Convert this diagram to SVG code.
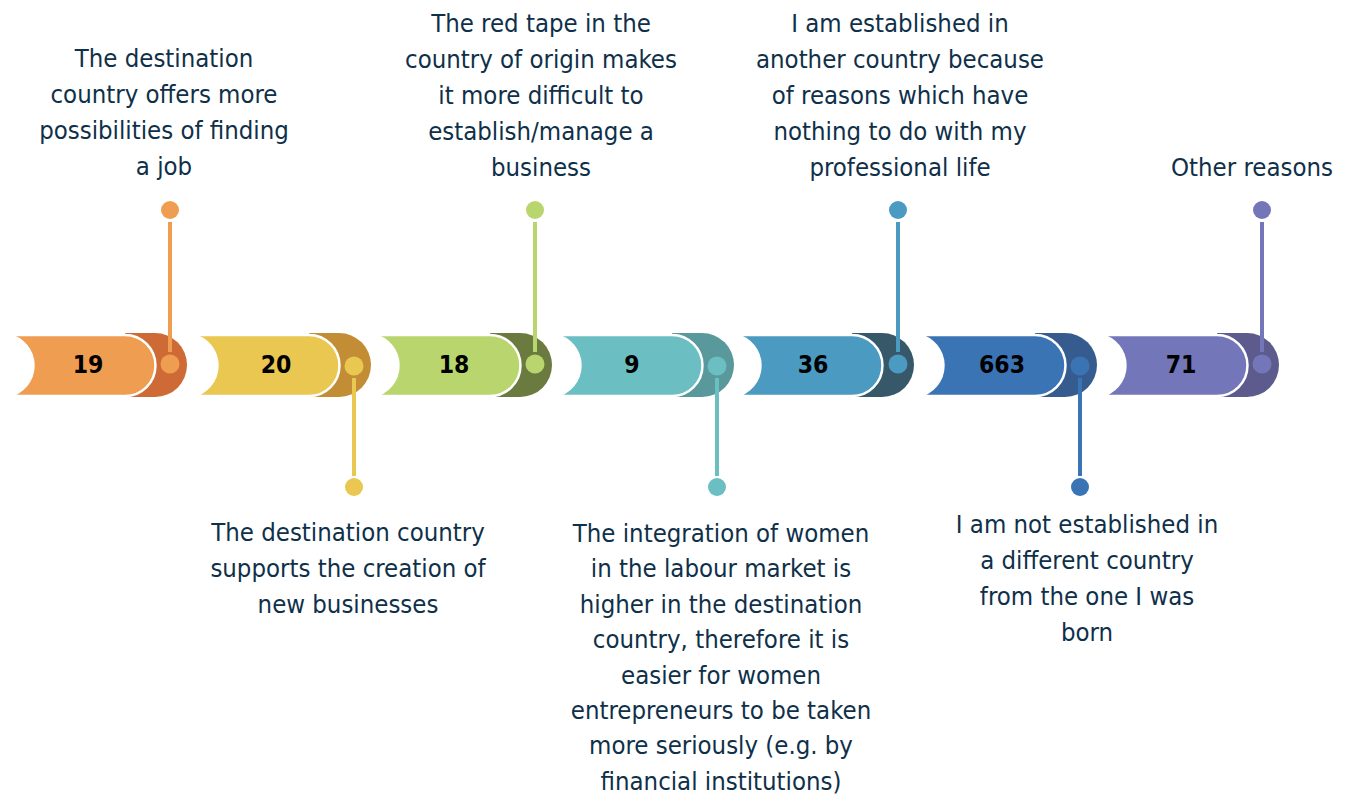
<svg xmlns="http://www.w3.org/2000/svg" width="1352" height="800" viewBox="0 0 1352 800">
<style>
.lbl{font-family:"DejaVu Sans Condensed","DejaVu Sans",sans-serif;font-stretch:condensed;font-size:25.5px;fill:#0F3049;text-anchor:middle}
.num{font-family:"DejaVu Sans Condensed","DejaVu Sans",sans-serif;font-stretch:condensed;font-weight:bold;font-size:24.5px;fill:#000;text-anchor:middle;dominant-baseline:central}
.body{stroke:#fff;stroke-width:2.5}
.ln{stroke-width:4;fill:none}
</style>
<rect width="1352" height="800" fill="#fff"/>
<g id="seg1">
<path d="M125,333 H155 A32,32 0 0 1 155,397 H125 Z" fill="#CE6A35"/>
<path class="body" d="M8,335 H125 A30.5,30.5 0 0 1 125,396 H8 A31,31 0 0 0 8,335 Z" fill="#EF9D50"/>
<circle cx="170" cy="364" r="9.5" fill="#EF9D50"/>
<text class="num" x="88" y="364">19</text>
</g>
<g id="seg2">
<path d="M309,333 H339 A32,32 0 0 1 339,397 H309 Z" fill="#C28D35"/>
<path class="body" d="M192,335 H309 A30.5,30.5 0 0 1 309,396 H192 A31,31 0 0 0 192,335 Z" fill="#E9C750"/>
<circle cx="354" cy="366" r="9.5" fill="#E9C750"/>
<text class="num" x="276" y="364">20</text>
</g>
<g id="seg3">
<path d="M490,333 H520 A32,32 0 0 1 520,397 H490 Z" fill="#6B7B3F"/>
<path class="body" d="M373,335 H490 A30.5,30.5 0 0 1 490,396 H373 A31,31 0 0 0 373,335 Z" fill="#B9D56E"/>
<circle cx="535" cy="364" r="9.5" fill="#B9D56E"/>
<text class="num" x="454" y="364">18</text>
</g>
<g id="seg4">
<path d="M672,333 H702 A32,32 0 0 1 702,397 H672 Z" fill="#5A999B"/>
<path class="body" d="M555,335 H672 A30.5,30.5 0 0 1 672,396 H555 A31,31 0 0 0 555,335 Z" fill="#6BBEC2"/>
<circle cx="717" cy="366" r="9.5" fill="#6BBEC2"/>
<text class="num" x="632" y="364">9</text>
</g>
<g id="seg5">
<path d="M852,333 H882 A32,32 0 0 1 882,397 H852 Z" fill="#365869"/>
<path class="body" d="M735,335 H852 A30.5,30.5 0 0 1 852,396 H735 A31,31 0 0 0 735,335 Z" fill="#4A9AC1"/>
<circle cx="898" cy="364" r="9.5" fill="#4A9AC1"/>
<text class="num" x="813" y="364">36</text>
</g>
<g id="seg6">
<path d="M1035,333 H1065 A32,32 0 0 1 1065,397 H1035 Z" fill="#365C8F"/>
<path class="body" d="M918,335 H1035 A30.5,30.5 0 0 1 1035,396 H918 A31,31 0 0 0 918,335 Z" fill="#3B74B5"/>
<circle cx="1080" cy="366" r="9.5" fill="#3B74B5"/>
<text class="num" x="1002" y="364">663</text>
</g>
<g id="seg7">
<path d="M1217,333 H1247 A32,32 0 0 1 1247,397 H1217 Z" fill="#5D5A8E"/>
<path class="body" d="M1100,335 H1217 A30.5,30.5 0 0 1 1217,396 H1100 A31,31 0 0 0 1100,335 Z" fill="#7377BA"/>
<circle cx="1262" cy="364" r="9.5" fill="#7377BA"/>
<text class="num" x="1181" y="364">71</text>
</g>
<g id="connectors">
<line class="ln" x1="170" y1="222" x2="170" y2="352" stroke="#EF9D50"/>
<circle cx="170" cy="210" r="9" fill="#EF9D50"/>
<line class="ln" x1="354" y1="378" x2="354" y2="476" stroke="#E9C750"/>
<circle cx="354" cy="487" r="9" fill="#E9C750"/>
<line class="ln" x1="535" y1="222" x2="535" y2="352" stroke="#B9D56E"/>
<circle cx="535" cy="210" r="9" fill="#B9D56E"/>
<line class="ln" x1="717" y1="378" x2="717" y2="476" stroke="#6BBEC2"/>
<circle cx="717" cy="487" r="9" fill="#6BBEC2"/>
<line class="ln" x1="898" y1="222" x2="898" y2="352" stroke="#4A9AC1"/>
<circle cx="898" cy="210" r="9" fill="#4A9AC1"/>
<line class="ln" x1="1080" y1="378" x2="1080" y2="476" stroke="#3B74B5"/>
<circle cx="1080" cy="487" r="9" fill="#3B74B5"/>
<line class="ln" x1="1262" y1="222" x2="1262" y2="352" stroke="#7377BA"/>
<circle cx="1262" cy="210" r="9" fill="#7377BA"/>
</g>
<g id="label1">
<text class="lbl"><tspan x="164" y="67">The destination</tspan><tspan x="164" y="103">country offers more</tspan><tspan x="164" y="139">possibilities of finding</tspan><tspan x="164" y="175">a job</tspan></text>
</g>
<g id="label2">
<text class="lbl"><tspan x="348" y="541">The destination country</tspan><tspan x="348" y="577">supports the creation of</tspan><tspan x="348" y="613">new businesses</tspan></text>
</g>
<g id="label3">
<text class="lbl"><tspan x="541" y="32">The red tape in the</tspan><tspan x="541" y="68">country of origin makes</tspan><tspan x="541" y="104">it more difficult to</tspan><tspan x="541" y="140">establish/manage a</tspan><tspan x="541" y="176">business</tspan></text>
</g>
<g id="label4">
<text class="lbl"><tspan x="721" y="542">The integration of women</tspan><tspan x="721" y="577.4">in the labour market is</tspan><tspan x="721" y="612.8">higher in the destination</tspan><tspan x="721" y="648.2">country, therefore it is</tspan><tspan x="721" y="683.6">easier for women</tspan><tspan x="721" y="719">entrepreneurs to be taken</tspan><tspan x="721" y="754.4">more seriously (e.g. by</tspan><tspan x="721" y="789.8">financial institutions)</tspan></text>
</g>
<g id="label5">
<text class="lbl"><tspan x="900" y="32">I am established in</tspan><tspan x="900" y="68">another country because</tspan><tspan x="900" y="104">of reasons which have</tspan><tspan x="900" y="140">nothing to do with my</tspan><tspan x="900" y="176">professional life</tspan></text>
</g>
<g id="label6">
<text class="lbl"><tspan x="1087" y="533">I am not established in</tspan><tspan x="1087" y="569">a different country</tspan><tspan x="1087" y="605">from the one I was</tspan><tspan x="1087" y="641">born</tspan></text>
</g>
<g id="label7">
<text class="lbl"><tspan x="1252" y="176">Other reasons</tspan></text>
</g>
</svg>
